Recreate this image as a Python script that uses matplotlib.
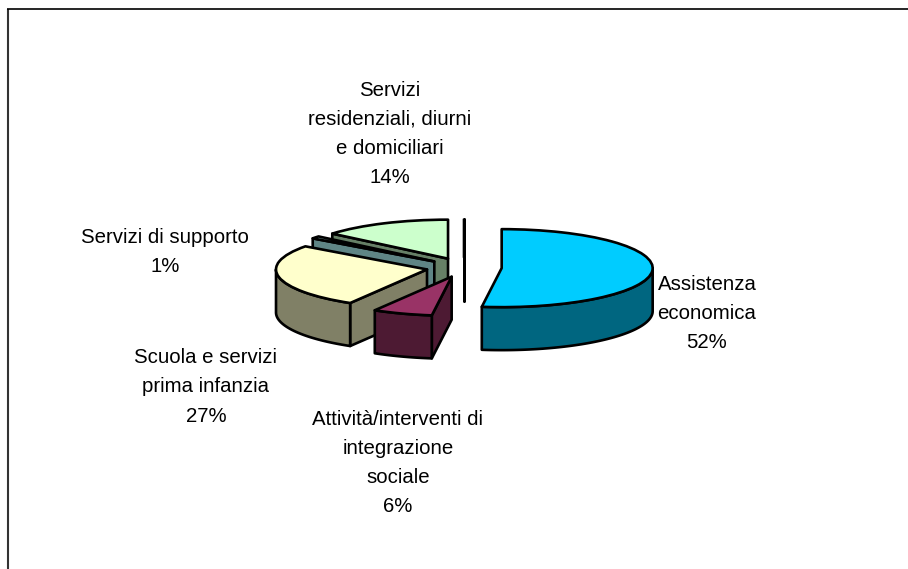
import matplotlib
matplotlib.use("Agg")
import numpy as np
import matplotlib.pyplot as plt

W, H = 908, 569
plt.rcParams['font.family'] = ['Liberation Sans', 'DejaVu Sans']

# data: clockwise from 12 o'clock; the zero slice draws the stray black stroke
labels = ["Assistenza\neconomica", "Attività/interventi di\nintegrazione\nsociale",
          "Scuola e servizi\nprima infanzia", "Servizi di supporto",
          "Servizi\nresidenziali, diurni\ne domiciliari", ""]
values = [52.1, 6.4, 26.6, 1.0, 13.9, 0]
top_colors = ["#00CCFF", "#993366", "#FFFFCC", "#99CCCC", "#CCFFCC", "#FFFFFF"]
side_colors = ["#006680", "#4D1A33", "#808066", "#5F8585", "#668066", "#808080"]
label_pos = [(707, 313.5), (398, 463), (206, 387), (165, 252), (390, 134)]

# projection of the tilted pie, in pixels
CX, CY, RX, RY, DEPTH = 464, 267.5, 151, 39, 43
EXPLODE = 0.25
LW = 1.9

fig = plt.figure(figsize=(W / 100, H / 100), dpi=100, facecolor="white")
ax = fig.add_axes([0, 0, 1, 1])
wedges, _ = ax.pie(values, explode=[EXPLODE] * len(values), startangle=90,
                   counterclock=False, colors=top_colors, radius=1,
                   wedgeprops=dict(edgecolor="black", linewidth=LW, joinstyle="round"))
ax.set_aspect("auto")
ax.set_xlim(-CX / RX, (W - CX) / RX)
ax.set_ylim((CY - H) / RY, CY / RY)
ax.set_axis_off()

d = DEPTH / RY
edges = np.concatenate([[0], np.cumsum(values)]) * 360.0 / sum(values)
mids = (edges[:-1] + edges[1:]) / 2
# back-to-front painting order
order = [5, 4, 3, 2, 1, 0]
z = 2
for i in order:
    t1, t2 = np.radians(edges[i]), np.radians(edges[i + 1])
    m = np.radians(mids[i])
    ox, oy = EXPLODE * np.sin(m), EXPLODE * np.cos(m)
    side = dict(facecolor=side_colors[i], edgecolor="black", linewidth=LW, joinstyle="round")
    # start radial face (visible on the left half) or zero slice
    if np.sin(t1) < 0 or t1 == t2:
        xs = np.array([0, np.sin(t1), np.sin(t1), 0]) + ox
        ys = np.array([0, np.cos(t1), np.cos(t1) - d, -d]) + oy
        ax.fill(xs, ys, zorder=z, **side)
    # outer rim, lower half of the ellipse only
    lo, hi = max(t1, np.pi / 2), min(t2, 3 * np.pi / 2)
    if hi > lo:
        a = np.linspace(lo, hi, 80)
        xs = np.concatenate([np.sin(a), np.sin(a[::-1])]) + ox
        ys = np.concatenate([np.cos(a), np.cos(a[::-1]) - d]) + oy
        ax.fill(xs, ys, zorder=z, **side)
    wedges[i].set_zorder(z + 1)
    z += 2

for (x, y), lab, v in zip(label_pos, labels, values):
    if lab:
        fig.text(x / W, 1 - y / H, f"{lab}\n{round(v)}%", ha="center", va="center",
                 fontsize=14.7, color="black", linespacing=1.68)

# chart-area frame: top and left edges visible
fr = fig.add_axes([0, 0, 1, 1], facecolor="none")
fr.set_xlim(0, W)
fr.set_ylim(H, 0)
fr.set_axis_off()
fr.plot([8, 8], [9, H], color="#333333", lw=1.5, solid_capstyle="butt")
fr.plot([7, W], [9.2, 9.2], color="black", lw=1.2, solid_capstyle="butt")

fig.savefig("out.png", dpi=100)
